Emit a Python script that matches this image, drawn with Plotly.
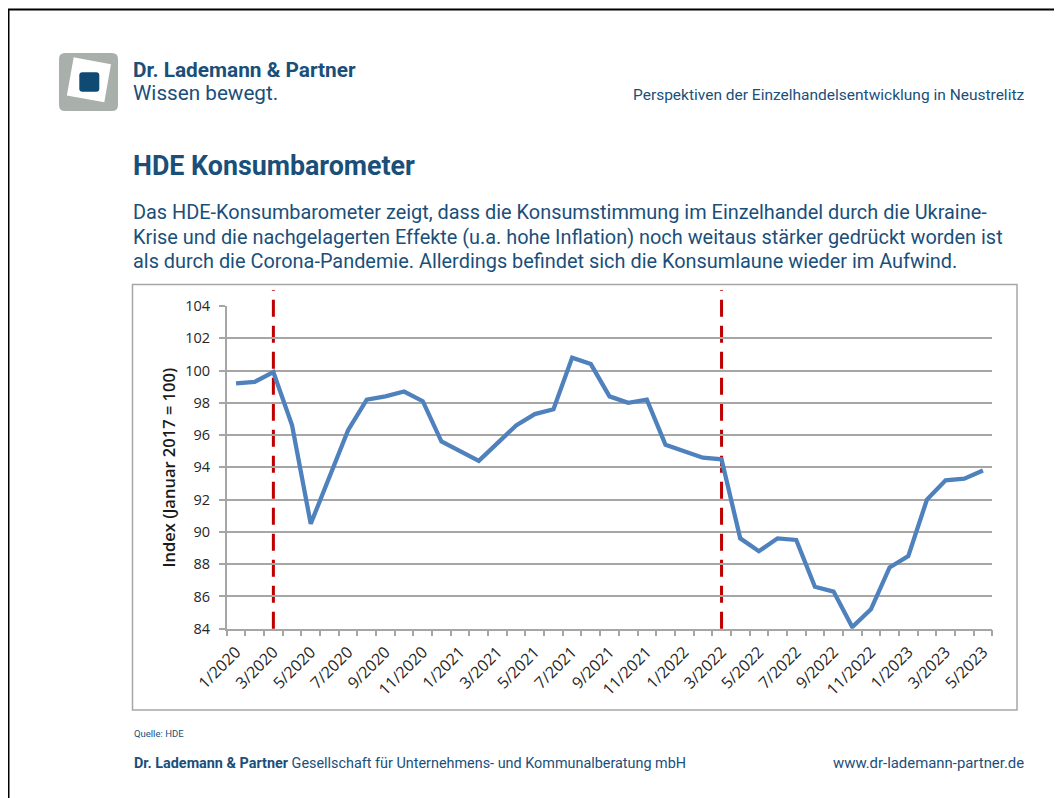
import plotly.graph_objects as go

# ---------------- data ----------------
months = [
    "1/2020", "2/2020", "3/2020", "4/2020", "5/2020", "6/2020", "7/2020", "8/2020",
    "9/2020", "10/2020", "11/2020", "12/2020",
    "1/2021", "2/2021", "3/2021", "4/2021", "5/2021", "6/2021", "7/2021", "8/2021",
    "9/2021", "10/2021", "11/2021", "12/2021",
    "1/2022", "2/2022", "3/2022", "4/2022", "5/2022", "6/2022", "7/2022", "8/2022",
    "9/2022", "10/2022", "11/2022", "12/2022",
    "1/2023", "2/2023", "3/2023", "4/2023", "5/2023",
]
index_values = [
    99.2, 99.3, 99.9, 96.6, 90.5, 93.4, 96.3, 98.2, 98.4, 98.7, 98.1, 95.6,
    95.0, 94.4, 95.5, 96.6, 97.3, 97.6, 100.8, 100.4, 98.4, 98.0, 98.2, 95.4,
    95.0, 94.6, 94.5, 89.6, 88.8, 89.6, 89.5, 86.6, 86.3, 84.1, 85.2, 87.8,
    88.5, 92.0, 93.2, 93.3, 93.8,
]
event_months = ["3/2020", "3/2022"]
y_ticks = list(range(84, 105, 2))

# ---------------- helpers ----------------
W, H = 1062, 798
OFF = 8  # the page body has an 8px margin; positions below are page pixels


def fx(x):
    return (x - OFF) / W


def fy(y):
    return 1 - (y - OFF) / H


def path(points, close=True):
    s = "M " + " L ".join(f"{fx(x):.5f},{fy(y):.5f}" for x, y in points)
    return s + (" Z" if close else "")


def rounded_rect(x0, y0, x1, y1, r):
    s = f"M {fx(x0 + r):.5f},{fy(y0):.5f} L {fx(x1 - r):.5f},{fy(y0):.5f} "
    s += f"Q {fx(x1):.5f},{fy(y0):.5f} {fx(x1):.5f},{fy(y0 + r):.5f} "
    s += f"L {fx(x1):.5f},{fy(y1 - r):.5f} "
    s += f"Q {fx(x1):.5f},{fy(y1):.5f} {fx(x1 - r):.5f},{fy(y1):.5f} "
    s += f"L {fx(x0 + r):.5f},{fy(y1):.5f} "
    s += f"Q {fx(x0):.5f},{fy(y1):.5f} {fx(x0):.5f},{fy(y1 - r):.5f} "
    s += f"L {fx(x0):.5f},{fy(y0 + r):.5f} "
    s += f"Q {fx(x0):.5f},{fy(y0):.5f} {fx(x0 + r):.5f},{fy(y0):.5f} Z"
    return s


x_idx = list(range(len(months)))

BLUE_TXT = "#1a4f7a"
GRID = "#a6a6a6"
BRAND_FONT = "Roboto"
CHART_FONT = "Open Sans"

fig = go.Figure()
fig.add_trace(go.Scatter(
    x=x_idx, y=index_values, mode="lines",
    line=dict(color="#4f81bd", width=4.3),
    hoverinfo="skip",
))

shapes = []
# page border (top & left)
shapes.append(dict(type="line", xref="paper", yref="paper",
                   x0=fx(8), x1=fx(1070), y0=fy(9.5), y1=fy(9.5),
                   line=dict(color="#000000", width=2)))
shapes.append(dict(type="line", xref="paper", yref="paper",
                   x0=fx(8.5), x1=fx(8.5), y0=fy(9), y1=fy(806),
                   line=dict(color="#000000", width=2)))
# chart frame
shapes.append(dict(type="rect", xref="paper", yref="paper",
                   x0=fx(132.5), x1=fx(1017), y0=fy(284.5), y1=fy(710),
                   line=dict(color=GRID, width=1.5), layer="below"))
# logo
shapes.append(dict(type="path", xref="paper", yref="paper",
                   path=rounded_rect(59, 53, 118, 111, 6),
                   fillcolor="#a9b0ab", line=dict(width=0)))
shapes.append(dict(type="path", xref="paper", yref="paper",
                   path=path([(74.5, 58.5), (109.8, 65.0), (103.5, 101.0), (68.0, 94.6)]),
                   fillcolor="#ffffff", line=dict(color="#ffffff", width=2)))
shapes.append(dict(type="path", xref="paper", yref="paper",
                   path=rounded_rect(79.3, 72.3, 99.3, 91.7, 3),
                   fillcolor="#0e4a72", line=dict(width=0)))
# event lines
for m in event_months:
    xi = months.index(m)
    shapes.append(dict(type="line", xref="x", yref="paper",
                       x0=xi, x1=xi, y0=fy(628.7), y1=fy(290),
                       line=dict(color="#c00000", width=3, dash="17px,9px"),
                       layer="between"))

annotations = []


def txt(x, y, text, size, color=BLUE_TXT, anchor="left", family=BRAND_FONT, weight=None):
    f = dict(family=family, size=size, color=color)
    if weight:
        f["weight"] = weight
    annotations.append(dict(xref="paper", yref="paper", x=fx(x), y=fy(y),
                            text=text, showarrow=False, xanchor=anchor,
                            yanchor="middle", font=f))


txt(131, 70, "<b>Dr. Lademann &amp; Partner</b>", 20.8)
txt(131, 93, "Wissen bewegt.", 20.7)
txt(1026, 95, "Perspektiven der Einzelhandelsentwicklung in Neustrelitz", 15.5, anchor="right")
txt(131, 166, "<b>HDE Konsumbarometer</b>", 26.8)
txt(131, 212, "Das HDE-Konsumbarometer zeigt, dass die Konsumstimmung im Einzelhandel durch die Ukraine-", 19.9)
txt(131, 237, "Krise und die nachgelagerten Effekte (u.a. hohe Inflation) noch weitaus stärker gedrückt worden ist", 19.9)
txt(131, 261, "als durch die Corona-Pandemie. Allerdings befindet sich die Konsumlaune wieder im Aufwind.", 19.9)
txt(132, 733, "Quelle: HDE", 9.5)
txt(132, 763, "<b>Dr. Lademann &amp; Partner</b> Gesellschaft für Unternehmens- und Kommunalberatung mbH", 14.4)
txt(1026, 763, "www.dr-lademann-partner.de", 14.9, anchor="right")
# y-axis title
annotations.append(dict(xref="paper", yref="paper", x=fx(168), y=fy(467.5),
                        text="Index (Januar 2017 = 100)", showarrow=False,
                        textangle=-90, xanchor="center", yanchor="middle",
                        font=dict(family=CHART_FONT, size=16.5, color="#1a1a1a", weight=600)))

fig.update_layout(
    template="none",
    width=W, height=H, autosize=False,
    margin=dict(l=0, r=0, t=0, b=0, pad=0, autoexpand=False),
    paper_bgcolor="#ffffff", plot_bgcolor="#ffffff",
    showlegend=False,
    shapes=shapes,
    annotations=annotations,
    xaxis=dict(
        domain=[fx(226.7), fx(992.3)],
        range=[-0.5, len(months) - 0.5],
        tickmode="array", tickvals=x_idx[::2], ticktext=months[::2],
        tickangle=-45, ticks="", showgrid=False, zeroline=False,
        showline=True, linecolor=GRID, linewidth=1.5,
        ticklabelstandoff=6,
        tickfont=dict(family=CHART_FONT, size=16, color="#262626"),
        minor=dict(ticks="outside", ticklen=6, tickcolor=GRID, tickwidth=1.5,
                   tickmode="linear", tick0=-0.5, dtick=1, showgrid=False),
        automargin=False, fixedrange=True,
    ),
    yaxis=dict(
        domain=[fy(628.7), fy(306)],
        range=[84, 104],
        tickmode="array", tickvals=y_ticks,
        showgrid=True, gridcolor=GRID, gridwidth=1.5,
        zeroline=False, showline=True, linecolor=GRID, linewidth=1.5,
        ticks="outside", ticklen=6, tickcolor=GRID, tickwidth=1.5,
        ticklabelstandoff=6,
        tickfont=dict(family=CHART_FONT, size=14.5, color="#262626"),
        automargin=False, fixedrange=True,
    ),
)

fig.write_html("out.html")
